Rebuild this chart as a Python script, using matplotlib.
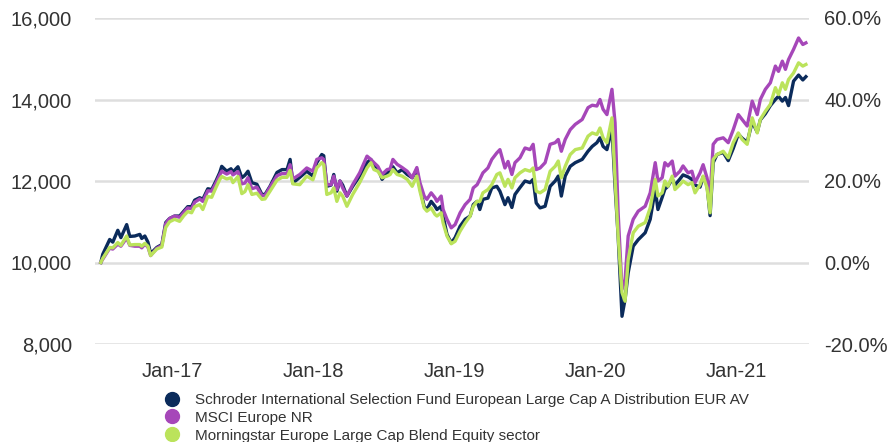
import matplotlib
matplotlib.use("Agg")
import matplotlib.pyplot as plt
from matplotlib.lines import Line2D
from matplotlib.ticker import FuncFormatter, FixedLocator
import pandas as pd

dates = [
    "2016-06-30", "2016-07-05", "2016-07-23", "2016-07-31", "2016-08-13", "2016-08-21", "2016-09-05", "2016-09-13",
    "2016-09-26", "2016-10-09", "2016-10-14", "2016-10-22", "2016-10-30", "2016-11-06", "2016-11-22", "2016-12-05",
    "2016-12-15", "2016-12-25", "2017-01-07", "2017-01-20", "2017-01-31", "2017-02-10", "2017-02-20", "2017-02-28",
    "2017-03-13", "2017-03-21", "2017-04-03", "2017-04-13", "2017-04-24", "2017-05-04", "2017-05-09", "2017-05-22",
    "2017-06-02", "2017-06-07", "2017-06-20", "2017-06-30", "2017-07-08", "2017-07-16", "2017-07-26", "2017-08-08",
    "2017-08-21", "2017-08-29", "2017-09-11", "2017-09-29", "2017-10-12", "2017-10-25", "2017-11-02", "2017-11-09",
    "2017-11-27", "2017-12-15", "2017-12-31", "2018-01-10", "2018-01-23", "2018-01-28", "2018-02-05", "2018-02-16",
    "2018-02-23", "2018-03-03", "2018-03-11", "2018-03-18", "2018-03-29", "2018-04-13", "2018-05-01", "2018-05-20",
    "2018-05-30", "2018-06-07", "2018-06-17", "2018-06-28", "2018-07-11", "2018-07-19", "2018-07-26", "2018-08-06",
    "2018-08-19", "2018-09-01", "2018-09-14", "2018-09-26", "2018-10-04", "2018-10-15", "2018-10-22", "2018-11-02",
    "2018-11-12", "2018-11-17", "2018-11-28", "2018-12-03", "2018-12-13", "2018-12-24", "2019-01-03", "2019-01-16",
    "2019-01-29", "2019-02-11", "2019-02-19", "2019-03-01", "2019-03-08", "2019-03-16", "2019-03-29", "2019-04-08",
    "2019-04-21", "2019-04-29", "2019-05-12", "2019-05-20", "2019-05-30", "2019-06-07", "2019-06-20", "2019-07-03",
    "2019-07-16", "2019-07-24", "2019-08-01", "2019-08-11", "2019-08-24", "2019-09-06", "2019-09-19", "2019-09-27",
    "2019-10-05", "2019-10-15", "2019-10-28", "2019-11-10", "2019-11-28", "2019-12-13", "2019-12-24", "2020-01-05",
    "2020-01-13", "2020-01-21", "2020-01-31", "2020-02-13", "2020-02-21", "2020-02-29", "2020-03-10", "2020-03-18",
    "2020-03-26", "2020-04-08", "2020-04-21", "2020-05-09", "2020-05-22", "2020-06-04", "2020-06-11", "2020-06-22",
    "2020-06-29", "2020-07-07", "2020-07-18", "2020-07-25", "2020-08-07", "2020-08-15", "2020-08-28", "2020-09-07",
    "2020-09-15", "2020-09-28", "2020-10-06", "2020-10-16", "2020-10-24", "2020-11-01", "2020-11-11", "2020-11-27",
    "2020-12-10", "2020-12-23", "2021-01-05", "2021-01-15", "2021-01-28", "2021-02-10", "2021-02-23", "2021-03-03",
    "2021-03-16", "2021-03-29", "2021-04-11", "2021-04-19", "2021-04-29", "2021-05-07", "2021-05-15", "2021-05-28",
    "2021-06-10", "2021-06-21", "2021-06-29",
]

fund = [
    10000, 10200, 10565, 10500, 10790, 10610, 10930, 10640, 10650, 10690, 10590, 10650, 10500, 10220, 10370, 10440,
    10980, 11080, 11140, 11140, 11260, 11370, 11370, 11530, 11590, 11550, 11810, 11790, 12000, 12210, 12360, 12240,
    12300, 12220, 12350, 12080, 12140, 12240, 11960, 11920, 11670, 11670, 11870, 12210, 12280, 12280, 12530, 11950,
    12090, 12240, 12120, 12450, 12650, 12620, 11870, 11900, 12160, 11750, 12000, 11900, 11630, 11870, 12120, 12450,
    12530, 12360, 12330, 12040, 12200, 12240, 12350, 12200, 12280, 12160, 12080, 12280, 11830, 11380, 11300, 11500,
    11380, 11300, 11380, 11140, 10690, 10480, 10610, 10890, 11060, 11140, 11420, 11500, 11300, 11550, 11580, 11830,
    11870, 11750, 11420, 11590, 11350, 11670, 11840, 12000, 11960, 12040, 11460, 11340, 11380, 11870, 12000, 12120,
    11630, 12120, 12360, 12450, 12530, 12730, 12850, 12940, 13060, 12850, 12770, 13300, 11870, 10650, 8680, 9100,
    9750, 10400, 10560, 10730, 11060, 11790, 11300, 11600, 11800, 11870, 12050, 11900, 12050, 12150, 12100, 12040,
    11900, 11850, 12100, 11900, 11150, 12450, 12650, 12700, 12500, 12800, 13150, 13050, 12950, 13450, 13200, 13500,
    13650, 13850, 14000, 14080, 13960, 14050, 13850, 14450, 14600, 14480, 14560,
]

msci = [
    10000, 10080, 10350, 10330, 10450, 10400, 10600, 10420, 10400, 10400, 10360, 10450, 10380, 10170, 10350, 10420,
    10950, 11080, 11140, 11110, 11230, 11340, 11320, 11480, 11560, 11500, 11760, 11750, 11950, 12150, 12240, 12170,
    12230, 12150, 12230, 11930, 11950, 12080, 11810, 11850, 11640, 11640, 11850, 12130, 12180, 12180, 12400, 12050,
    12160, 12320, 12240, 12530, 12570, 12530, 11910, 11910, 12120, 11790, 12000, 11830, 11630, 11910, 12200, 12610,
    12530, 12450, 12360, 12160, 12280, 12300, 12530, 12410, 12330, 12240, 12080, 12330, 11960, 11630, 11550, 11710,
    11590, 11500, 11630, 11300, 11060, 10850, 10930, 11220, 11420, 11550, 11830, 11910, 12040, 12200, 12320, 12530,
    12690, 12770, 12320, 12480, 12160, 12450, 12570, 12810, 12770, 12900, 12280, 12320, 12450, 12900, 12940, 13020,
    12730, 13020, 13260, 13390, 13510, 13800, 13860, 13840, 14000, 13760, 13630, 14250, 13430, 11220, 9340, 9580,
    10650, 11060, 11260, 11380, 11710, 12450, 12000, 12080, 12450, 12370, 12490, 12120, 12240, 12370, 12200, 12240,
    11960, 12200, 12400, 12080, 11630, 12900, 13020, 13060, 12940, 13260, 13630, 13510, 13350, 13960, 13630, 14000,
    14250, 14410, 14820, 14690, 14940, 14740, 14980, 15230, 15510, 15350, 15390,
]

sector = [
    10000, 10100, 10370, 10360, 10490, 10420, 10650, 10430, 10440, 10440, 10400, 10470, 10400, 10170, 10330, 10380,
    10860, 11000, 11060, 11010, 11150, 11250, 11220, 11370, 11420, 11300, 11620, 11600, 11840, 12040, 12110, 12050,
    12080, 11960, 12110, 11690, 11740, 11910, 11670, 11700, 11550, 11560, 11750, 12020, 12090, 12090, 12260, 11930,
    11910, 12120, 12030, 12320, 12450, 12400, 11670, 11710, 11830, 11500, 11710, 11630, 11380, 11670, 11960, 12320,
    12450, 12280, 12240, 12080, 12120, 12160, 12280, 12160, 12120, 12040, 11870, 12120, 11750, 11340, 11260, 11340,
    11180, 11140, 11220, 10970, 10650, 10460, 10520, 10770, 10970, 11140, 11380, 11500, 11500, 11710, 11790, 11910,
    12160, 12200, 11870, 12040, 11830, 12080, 12200, 12280, 12240, 12320, 11750, 11710, 11790, 12240, 12360, 12490,
    12080, 12360, 12650, 12770, 12810, 13100, 13180, 13140, 13300, 13060, 12940, 13550, 12040, 10650, 9260, 9050,
    10070, 10730, 10890, 10980, 11340, 12040, 11630, 11710, 12000, 11870, 12120, 11790, 11910, 12000, 11910, 11960,
    11710, 11910, 12120, 11830, 11220, 12530, 12650, 12730, 12570, 12940, 13180, 13020, 12900, 13550, 13180, 13510,
    13710, 13880, 14290, 14120, 14410, 14250, 14490, 14650, 14900, 14820, 14860,
]

series_names = [
    "Schroder International Selection Fund European Large Cap A Distribution EUR AV",
    "MSCI Europe NR",
    "Morningstar Europe Large Cap Blend Equity sector",
]
series_colors = ["#0B2B5B", "#A647B9", "#BBE35B"]

left_ticks = [8000, 10000, 12000, 14000, 16000]
right_ticks = [-20, 0, 20, 40, 60]
x_ticks = ["2017-01-01", "2018-01-01", "2019-01-01", "2020-01-01", "2021-01-01"]
x_tick_labels = ["Jan-17", "Jan-18", "Jan-19", "Jan-20", "Jan-21"]

plt.rcParams["font.family"] = ["Liberation Sans", "DejaVu Sans"]
text_color = "#333333"
grid_color = "#DEDEDE"

x = pd.to_datetime(dates)
fig = plt.figure(figsize=(8.96, 4.42), dpi=100)
ax = fig.add_axes([95 / 896, 1 - 344 / 442, (809 - 95) / 896, (344 - 18) / 442])

for vals, col, name in zip([fund, msci, sector], series_colors, series_names):
    ax.plot(x, vals, color=col, lw=2.4, label=name, solid_joinstyle="round")

ax.set_ylim(8000, 16000)
ax.set_xlim(pd.Timestamp("2016-06-15"), pd.Timestamp("2021-07-07"))
ax.yaxis.set_major_locator(FixedLocator(left_ticks))
ax.yaxis.set_major_formatter(FuncFormatter(lambda v, p: f"{v:,.0f}"))
ax.set_xticks(pd.to_datetime(x_ticks))
ax.set_xticklabels(x_tick_labels)
ax.grid(axis="y", color=grid_color, lw=1.8)
ax.set_axisbelow(True)
for s in ax.spines.values():
    s.set_visible(False)
ax.tick_params(axis="both", length=0, labelsize=14.5, colors=text_color)
ax.tick_params(axis="y", pad=16.5)
ax.tick_params(axis="x", pad=13)

ax2 = ax.twinx()
ax2.set_ylim(-20, 60)
ax2.yaxis.set_major_locator(FixedLocator(right_ticks))
ax2.yaxis.set_major_formatter(FuncFormatter(lambda v, p: f"{v:.1f}%"))
for s in ax2.spines.values():
    s.set_visible(False)
ax2.tick_params(axis="y", length=0, labelsize=14.5, colors=text_color, pad=11)

handles = [Line2D([], [], ls="none", marker="o", markersize=10, color=c) for c in series_colors]
leg = fig.legend(handles, series_names, loc="upper left", bbox_to_anchor=(164 / 896, 1 - 393 / 442),
                 frameon=False, fontsize=11, labelspacing=0.25, handlelength=1.0, handletextpad=1.0,
                 borderpad=0, borderaxespad=0, labelcolor=text_color)

fig.savefig("out.png", dpi=100)
